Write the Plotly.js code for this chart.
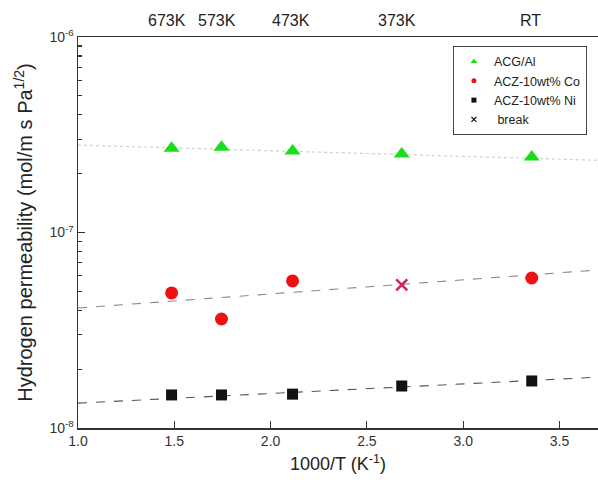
<!DOCTYPE html>
<html>
<head>
<meta charset="utf-8">
<script src="https://cdn.plot.ly/plotly-3.0.1.min.js"></script>
<style>html,body{margin:0;padding:0;background:#fff;}#chart{width:598px;height:484px;}</style>
</head>
<body>
<div id="chart"></div>
<script>
// 1000/T values (K^-1) for 673K, 573K, 473K, 373K, RT
const invT = [1.486, 1.745, 2.114, 2.681, 3.356];
const tempLabels = ["673K", "573K", "473K", "373K", "RT"];
const tempLabelX = [1.462, 1.722, 2.106, 2.656, 3.347];

const acgAl = [2.70e-7, 2.73e-7, 2.61e-7, 2.52e-7, 2.43e-7];
const coX = [1.486, 1.745, 2.114, 3.356];
const coVals = [4.91e-8, 3.61e-8, 5.65e-8, 5.85e-8];
const breakX = [2.681];
const breakVals = [5.39e-8];
const niVals = [1.476e-8, 1.476e-8, 1.49e-8, 1.64e-8, 1.74e-8];

// trend lines (fit endpoints)
const fitX = [1.0, 3.7];
const fitAcg = [2.80e-7, 2.34e-7];
const fitCo = [4.11e-8, 6.43e-8];
const fitNi = [1.34e-8, 1.82e-8];

const seriesNames = ["ACG/Al", "ACZ-10wt% Co", "ACZ-10wt% Ni", "break"];

const yTickVals = [1e-8, 1e-7, 1e-6];
const yTickText = ["10<sup>-8</sup>", "10<sup>-7</sup>", "10<sup>-6</sup>"];
const yMinorVals = [2e-8,3e-8,4e-8,5e-8,6e-8,7e-8,8e-8,9e-8,2e-7,3e-7,4e-7,5e-7,6e-7,7e-7,8e-7,9e-7];
const xTickVals = [1.0, 1.5, 2.0, 2.5, 3.0, 3.5];
const xTickText = ["1.0","1.5","2.0","2.5","3.0","3.5"];

const font = "Liberation Sans, Arial, sans-serif";

const traces = [
  {x: fitX, y: fitAcg, mode: "lines", line: {color: "#cfcfcf", width: 1.2, dash: "dot"}, showlegend: false},
  {x: fitX, y: fitCo, mode: "lines", line: {color: "#8f8a8c", width: 1.1, dash: "dash"}, showlegend: false},
  {x: fitX, y: fitNi, mode: "lines", line: {color: "#555555", width: 1.1, dash: "dash"}, showlegend: false},
  {x: invT, y: acgAl, mode: "markers", showlegend: false, marker: {symbol: "triangle-up", size: 14, color: "#18dd18"}},
  {x: coX, y: coVals, mode: "markers", showlegend: false, marker: {symbol: "circle", size: 13, color: "#ee1111"}},
  {x: invT, y: niVals, mode: "markers", showlegend: false, marker: {symbol: "square", size: 11, color: "#111111"}},
  {x: breakX, y: breakVals, mode: "markers", showlegend: false, marker: {symbol: "x-thin-open", size: 11, color: "#cc2266", line: {width: 2.5, color: "#cc2266"}}},
  // legend entries (small symbols like the reference legend)
  {x: [null], y: [null], mode: "markers", name: seriesNames[0], marker: {symbol: "triangle-up", size: 6, color: "#18dd18"}},
  {x: [null], y: [null], mode: "markers", name: seriesNames[1], marker: {symbol: "circle", size: 5, color: "#ee1111"}},
  {x: [null], y: [null], mode: "markers", name: seriesNames[2], marker: {symbol: "square", size: 5, color: "#111111"}},
  {x: [null], y: [null], mode: "markers", name: " " + seriesNames[3], marker: {symbol: "x-thin-open", size: 5, color: "#111", line: {width: 1.3, color: "#111"}}}
];

const annotations = tempLabels.map((t, i) => ({
  x: tempLabelX[i], y: 1, xref: "x", yref: "paper", yanchor: "bottom", yshift: 6,
  text: t, showarrow: false, font: {family: font, size: 16, color: "#222"}
}));

const layout = {
  width: 598, height: 484,
  margin: {l: 78, r: 0, t: 37, b: 56},
  paper_bgcolor: "#fff", plot_bgcolor: "#fff",
  font: {family: font, size: 14, color: "#222"},
  xaxis: {
    range: [1.0, 3.7], tickvals: xTickVals, ticktext: xTickText,
    ticks: "inside", ticklen: 7, tickwidth: 1.2, tickcolor: "#333",
    showline: true, linecolor: "#333", linewidth: 1.5, mirror: true,
    showgrid: false, zeroline: false,
    tickfont: {family: font, size: 14, color: "#333"},
    title: {text: "1000/T (K<sup>-1</sup>)", font: {family: font, size: 18, color: "#222"}, standoff: 9}
  },
  yaxis: {
    type: "log", range: [-8, -6], tickvals: yTickVals, ticktext: yTickText,
    ticks: "inside", ticklen: 7, tickwidth: 1.2, tickcolor: "#333",
    minor: {tickvals: yMinorVals, ticks: "inside", ticklen: 4, tickcolor: "#333", showgrid: false},
    showline: true, linecolor: "#333", linewidth: 1.5, mirror: true,
    showgrid: false, zeroline: false,
    tickfont: {family: font, size: 14, color: "#333"},
    title: {text: "Hydrogen permeability (mol/m s Pa<sup>1/2</sup>)", font: {family: font, size: 20, color: "#222"}, standoff: 11}
  },
  legend: {
    x: 0.721, y: 0.977, xanchor: "left", yanchor: "top",
    bgcolor: "#fff", bordercolor: "#444", borderwidth: 1,
    font: {family: font, size: 12.5, color: "#222"},
    tracegroupgap: 0
  },
  annotations: annotations,
  showlegend: true
};

Plotly.newPlot("chart", traces, layout, {displayModeBar: false, staticPlot: true});
</script>
</body>
</html>
